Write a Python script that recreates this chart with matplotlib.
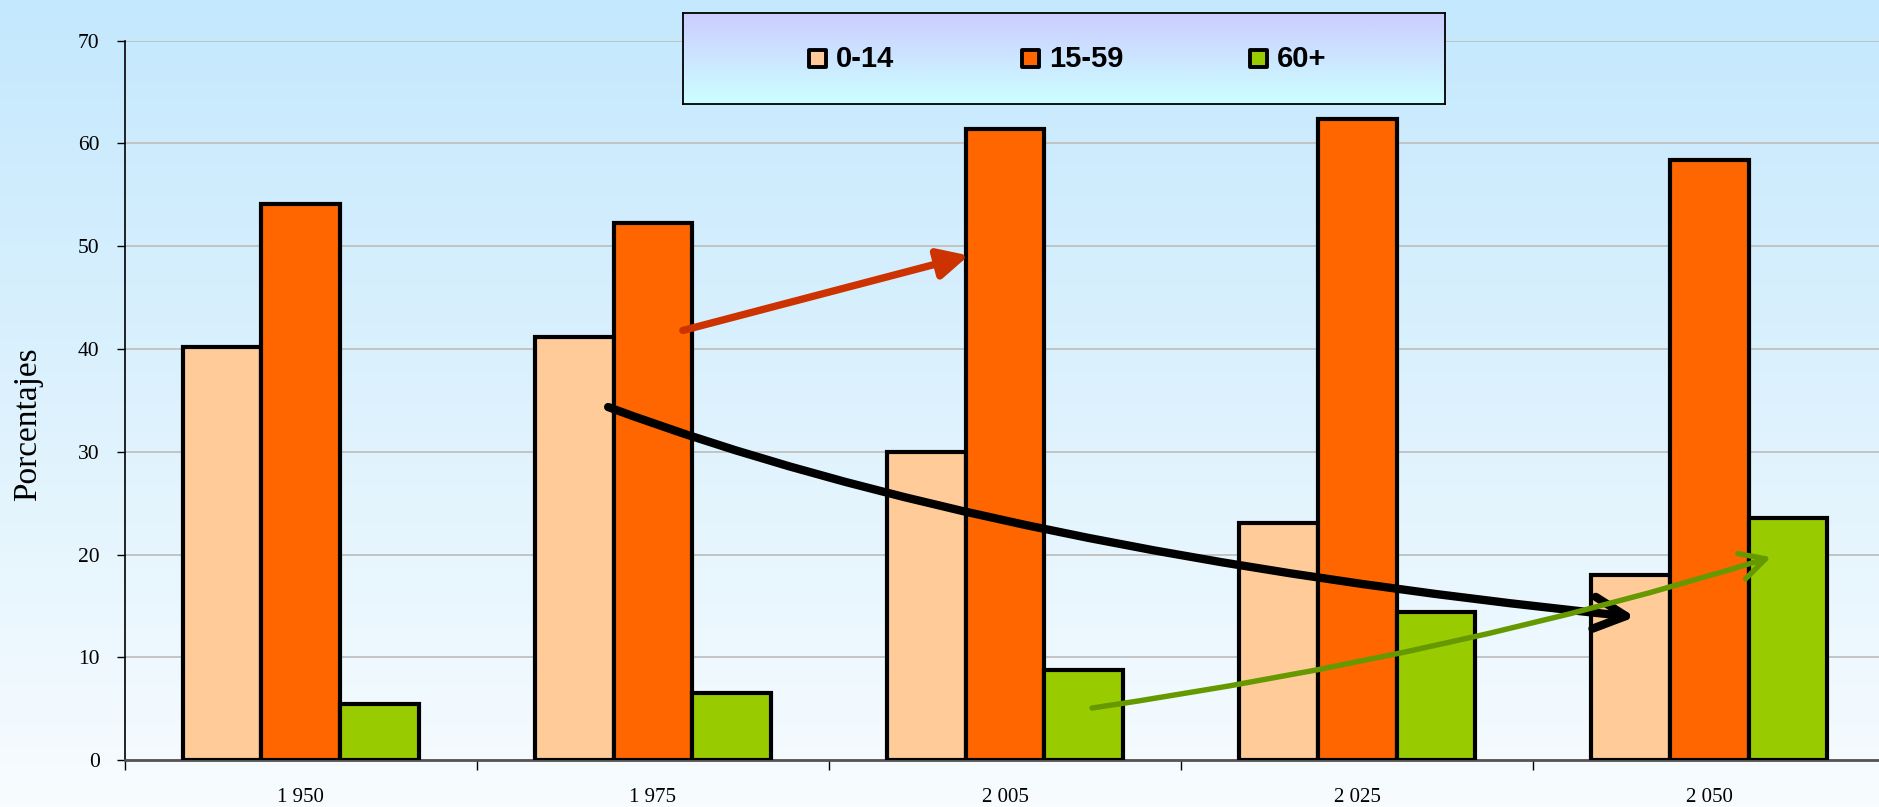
import matplotlib
matplotlib.use("Agg")
import matplotlib.pyplot as plt
import numpy as np
from matplotlib.colors import LinearSegmentedColormap
from matplotlib.patches import FancyArrowPatch, Rectangle
from matplotlib.path import Path

years = ["1 950", "1 975", "2 005", "2 025", "2 050"]
age_groups = ["0-14", "15-59", "60+"]
share_0_14 = [40.2, 41.2, 30.0, 23.1, 18.0]
share_15_59 = [54.1, 52.3, 61.4, 62.4, 58.4]
share_60_plus = [5.5, 6.5, 8.8, 14.4, 23.6]
bar_colors = ["#FFCC99", "#FF6600", "#99CC00"]

# trend arrows in data units (category index, percent)
arrow_15_59 = [(1.085, 41.8), (1.897, 49.1)]
arrow_0_14 = [(0.873, 34.35), (1.974, 20.3), (3.789, 13.92)]   # start, control, end
arrow_60_plus = [(2.247, 5.06), (3.297, 10.4), (4.175, 19.75)]

serif = ["Liberation Serif", "DejaVu Serif"]

fig = plt.figure(figsize=(18.79, 8.07), dpi=100)

# page background gradient
bg = fig.add_axes([0, 0, 1, 1], zorder=-10)
bg_cmap = LinearSegmentedColormap.from_list("bg", ["#C4E8FD", "#DDF2FD", "#F8FCFF"])
bg.imshow(np.linspace(0, 1, 256)[:, None], aspect="auto", cmap=bg_cmap,
          extent=[0, 1, 0, 1])
bg.axis("off")

ax = fig.add_axes([0.0663, 0.0582, 0.9372, 0.8914])
ax.set_facecolor("none")

x = np.arange(len(years))
width = 0.2234
series = [share_0_14, share_15_59, share_60_plus]
for j, (vals, col) in enumerate(zip(series, bar_colors)):
    ax.bar(x + (j - 1) * width, vals, width, color=col, edgecolor="black",
           linewidth=3.0, label=age_groups[j], zorder=3)

ax.set_xlim(-0.5, len(years) - 0.5)
ax.set_ylim(0, 70)
ax.set_yticks(np.arange(0, 71, 10))
ax.yaxis.grid(True, color="#C0C0C0", linewidth=1.3)
ax.set_axisbelow(True)

ax.set_xticks(np.arange(-0.5, len(years), 1.0))
ax.set_xticklabels([])
ax.set_xticks(x, minor=True)
ax.set_xticklabels(years, minor=True, fontsize=15, family=serif)
ax.tick_params(axis="x", which="major", direction="out", length=7, width=1)
ax.tick_params(axis="x", which="minor", length=0, pad=20)
ax.tick_params(axis="y", direction="out", length=6, width=1, pad=12,
               labelsize=15.5)
for lbl in ax.get_yticklabels():
    lbl.set_family(serif)

for side in ["top", "right"]:
    ax.spines[side].set_visible(False)
ax.spines["left"].set_linewidth(1.2)
ax.spines["bottom"].set_color("#555555")
ax.spines["bottom"].set_linewidth(2)

ax.set_ylabel("Porcentajes", fontsize=24, family=serif)
ax.yaxis.set_label_coords(-0.046, 0.467)

# trend arrows
red = FancyArrowPatch(arrow_15_59[0], arrow_15_59[1],
                      arrowstyle="-|>,head_length=18,head_width=9",
                      mutation_scale=1, shrinkA=0, shrinkB=0,
                      color="#CC3300", linewidth=5.3, zorder=6)
ax.add_patch(red)

curve_codes = [Path.MOVETO, Path.CURVE3, Path.CURVE3]
black = FancyArrowPatch(path=Path(arrow_0_14, curve_codes),
                        arrowstyle="->,head_length=23,head_width=11.5",
                        mutation_scale=1, color="black", linewidth=6,
                        capstyle="round", joinstyle="round", zorder=6)
ax.add_patch(black)

green = FancyArrowPatch(path=Path(arrow_60_plus, curve_codes),
                        arrowstyle="->,head_length=18,head_width=9.5",
                        mutation_scale=1, color="#669900", linewidth=3.9,
                        capstyle="round", joinstyle="round", zorder=7)
ax.add_patch(green)

# legend box with its own gradient
lax = fig.add_axes([0.3635, 0.871, 0.4055, 0.113], zorder=10)
leg_cmap = LinearSegmentedColormap.from_list("leg", ["#CCCCFF", "#CCFFFF"])
lax.imshow(np.linspace(0, 1, 256)[:, None], aspect="auto", cmap=leg_cmap,
           extent=[0, 1, 0, 1])
lax.set_xlim(0, 1)
lax.set_ylim(0, 1)
lax.set_xticks([])
lax.set_yticks([])
for sp in lax.spines.values():
    sp.set_linewidth(1.3)
    sp.set_color("black")

legend_x = [0.176, 0.456, 0.755]
mw, mh = 17 / 762, 17 / 91
for cx, name, col in zip(legend_x, age_groups, bar_colors):
    lax.add_patch(Rectangle((cx - mw / 2, 0.495 - mh / 2), mw, mh,
                            facecolor=col, edgecolor="black", linewidth=2.8,
                            joinstyle="round"))
    lax.text(cx + 19 / 762, 0.495, name, fontsize=21, fontweight="bold",
             family=["Liberation Sans", "DejaVu Sans"], va="center", ha="left")

fig.savefig("out.png", dpi=100)
